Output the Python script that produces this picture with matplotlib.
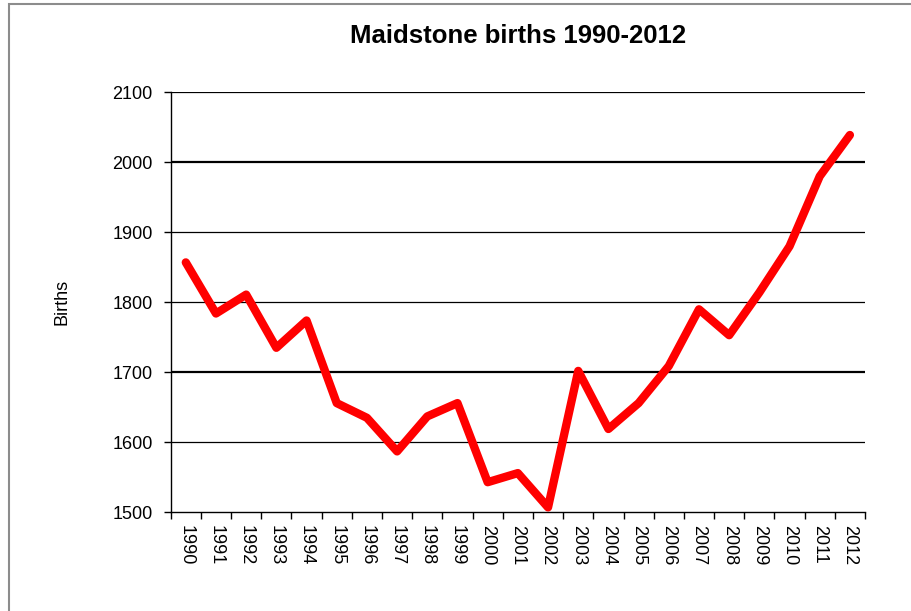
import matplotlib
matplotlib.use("Agg")
import matplotlib.pyplot as plt
from matplotlib.patches import Rectangle

years = [str(y) for y in range(1990, 2013)]
births = [1857, 1784, 1811, 1735, 1774, 1656, 1635, 1587, 1637, 1656, 1543, 1556,
          1507, 1702, 1619, 1656, 1709, 1790, 1753, 1814, 1880, 1980, 2039]
yticks = [1500, 1600, 1700, 1800, 1900, 2000, 2100]

plt.rcParams['font.family'] = ['Liberation Sans', 'DejaVu Sans']

fig = plt.figure(figsize=(9.12, 6.11), dpi=100)
fig.patches.append(Rectangle((9/912, -0.1), 1.1, 1 - 4/611 + 0.1, transform=fig.transFigure,
                             fill=False, edgecolor='#8c8c8c', linewidth=1.5))
ax = fig.add_axes([170.7/912, 1 - 512.3/611, (865 - 170.7)/912, (512.3 - 92.3)/611])

x = list(range(len(years)))
for v in yticks[1:]:
    lw = 1.6 if v in (1700, 2000) else 0.9
    ax.axhline(v, color='black', linewidth=lw, zorder=1)

ax.plot(x, births, color='#ff0000', linewidth=6, solid_capstyle='round',
        solid_joinstyle='round', zorder=3)

ax.set_xlim(-0.5, len(years) - 0.5)
ax.set_ylim(1500, 2100)
ax.set_yticks(yticks)
ax.set_yticklabels([str(v) for v in yticks], fontsize=13)
ax.set_xticks(x)
ax.set_xticklabels(years, rotation=-90, fontsize=13)
ax.tick_params(axis='x', length=0, pad=9)
ax.set_xticks([i - 0.5 for i in range(len(years) + 1)], minor=True)
ax.tick_params(axis='x', which='minor', length=5, width=1, direction='out', color='black')
ax.tick_params(axis='y', length=5, width=1, direction='out', pad=8)

for s in ['top', 'right']:
    ax.spines[s].set_visible(False)
for s in ['left', 'bottom']:
    ax.spines[s].set_color('black')
    ax.spines[s].set_linewidth(1)

ax.set_ylabel('Births', fontsize=13, labelpad=30)
fig.text(518/912, 1 - 36/611, 'Maidstone births 1990-2012', ha='center', va='center',
         fontsize=18.5, fontweight='bold')

fig.savefig('out.png', dpi=100)
